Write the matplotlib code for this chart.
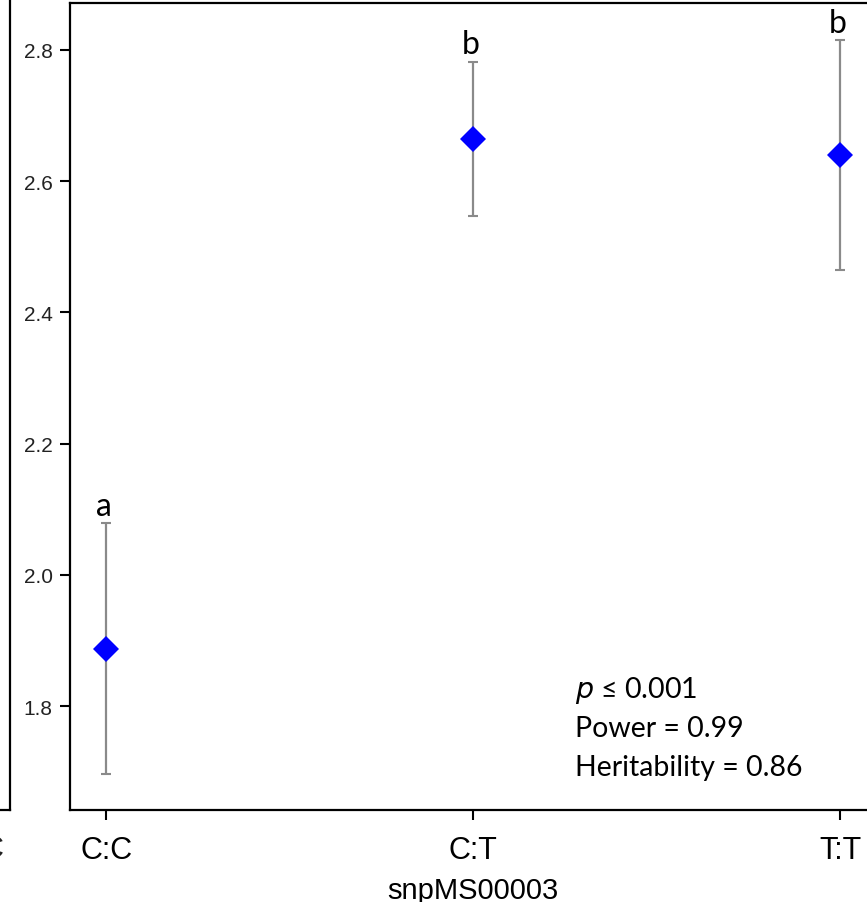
import numpy as np
import matplotlib
matplotlib.use('Agg')
import matplotlib.pyplot as plt

plt.rcParams['font.family'] = ['Liberation Sans', 'DejaVu Sans']

genotypes = ['C:C', 'C:T', 'T:T']
means = [1.887, 2.664, 2.640]
upper = [2.079, 2.782, 2.815]
lower = [1.697, 2.547, 2.465]
groups = ['a', 'b', 'b']
yticks = [1.8, 2.0, 2.2, 2.4, 2.6, 2.8]
stats_lines = [r'$\it{p}$ ≤ 0.001', 'Power = 0.99', 'Heritability = 0.86']

W, H = 867, 903
fig = plt.figure(figsize=(W / 100, H / 100), dpi=100)

# piece of the neighbouring panel on the left, mostly cut off
ax0 = fig.add_axes([-0.5, (H - 810.7) / H, 10.5 / W + 0.5, 1.1])
ax0.set_xticks([])
ax0.set_yticks([])
for s in ['top', 'left']:
    ax0.spines[s].set_visible(False)
for s in ['right', 'bottom']:
    ax0.spines[s].set_linewidth(1.6)
fig.text(3 / W, 1 - 850 / H, 'C', ha='right', va='center', fontsize=23, color='#222222')

ax = fig.add_axes([69.5 / W, (H - 810.7) / H, (876.7 - 69.5) / W, (810.7 - 4.3) / H])
x = np.arange(len(genotypes))
m = np.array(means)
yerr = [m - np.array(lower), np.array(upper) - m]
eb = ax.errorbar(x, m, yerr=yerr, fmt='none', ecolor='#8a8a8a', elinewidth=1.6,
                 capsize=3.8, capthick=1.5, zorder=2)
for cap in eb[1]:
    cap.set_color('#2a2a2a')
ax.plot(x, m, 'D', color='#0000ff', markersize=13.5, markeredgewidth=0, zorder=3)

for xi, top, g in zip(x, upper, groups):
    ax.annotate(g, (xi, top), xytext=(-1.5, 6), textcoords='offset points',
                ha='center', va='baseline', fontsize=23, family=['Lato', 'DejaVu Sans'])

for i, line in enumerate(stats_lines):
    ax.text(575 / W, 1 - (698 + 39 * i) / H, line, transform=fig.transFigure,
            fontsize=20.5, family=['Lato', 'DejaVu Sans'], va='baseline', ha='left')

ax.set_xlim(-0.1, 2.1)
ax.set_ylim(1.642, 2.871)
ax.set_xticks(x)
ax.set_xticklabels(genotypes, fontsize=22)
ax.set_yticks(yticks)
ax.set_yticklabels(['%.1f' % v for v in yticks], fontsize=15, color='#222222')
ax.tick_params(axis='both', length=7, width=1.5, direction='out')
ax.tick_params(axis='x', pad=11)
ax.tick_params(axis='y', pad=5)
for s in ax.spines.values():
    s.set_linewidth(1.6)
ax.set_xlabel('snpMS00003', fontsize=21, labelpad=8)

fig.savefig('out.png', dpi=100)
